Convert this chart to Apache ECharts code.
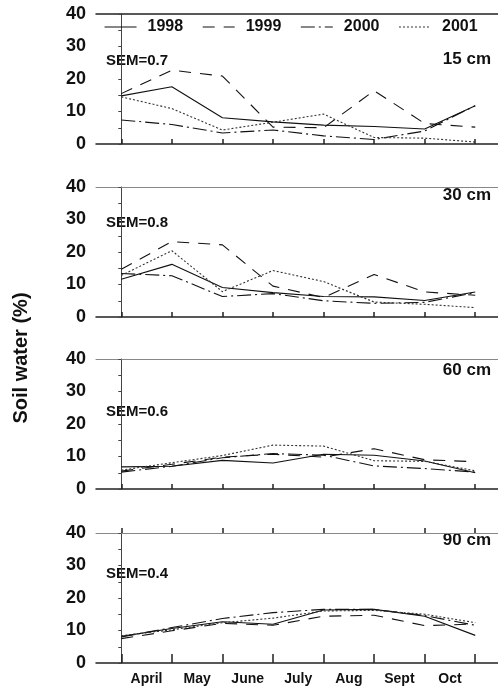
<!DOCTYPE html>
<html>
<head>
<meta charset="utf-8">
<script src="https://cdn.jsdelivr.net/npm/echarts@6/dist/echarts.min.js"></script>
<style>
  html, body { margin: 0; padding: 0; background: #fff; }
  #chart { width: 498px; height: 686px; }
</style>
</head>
<body>
<div id="chart"></div>
<script>
const months = ['April', 'May', 'June', 'July', 'Aug', 'Sept', 'Oct'];
const years = ['1998', '1999', '2000', '2001'];
const depths = ['15 cm', '30 cm', '60 cm', '90 cm'];
const sems = ['SEM=0.7', 'SEM=0.8', 'SEM=0.6', 'SEM=0.4'];

// soil water (%) at each sampling point, 8 points per year
const cm15_1998 = [14.8, 17.6, 8.1, 6.8, 5.8, 5.4, 4.6, 11.8];
const cm15_1999 = [15.5, 22.7, 20.9, 5.2, 5.0, 16.4, 6.3, 5.2];
const cm15_2000 = [7.4, 6.0, 3.4, 4.3, 2.5, 1.4, 4.0, 11.8];
const cm15_2001 = [14.5, 10.9, 4.3, 6.7, 9.2, 2.0, 1.8, 0.6];

const cm30_1998 = [11.6, 16.2, 9.1, 7.5, 6.3, 6.2, 5.1, 7.7];
const cm30_1999 = [14.7, 23.2, 22.2, 9.5, 6.0, 13.1, 7.7, 6.7];
const cm30_2000 = [13.4, 12.7, 6.3, 7.2, 5.0, 4.2, 4.5, 7.5];
const cm30_2001 = [12.8, 20.4, 7.8, 14.3, 10.9, 4.6, 3.9, 2.9];

const cm60_1998 = [6.8, 7.0, 8.8, 8.0, 10.7, 10.4, 8.6, 5.0];
const cm60_1999 = [5.5, 7.6, 9.8, 10.7, 9.8, 12.4, 9.0, 8.4];
const cm60_2000 = [5.2, 7.0, 9.6, 10.9, 10.4, 7.1, 6.3, 5.2];
const cm60_2001 = [5.8, 8.1, 10.3, 13.5, 13.2, 8.7, 8.5, 5.6];

const cm90_1998 = [8.2, 10.6, 12.7, 11.9, 16.3, 16.5, 14.4, 8.5];
const cm90_1999 = [7.5, 9.9, 12.2, 11.6, 14.4, 14.7, 11.5, 12.0];
const cm90_2000 = [8.0, 10.9, 13.7, 15.5, 16.5, 16.5, 14.6, 11.6];
const cm90_2001 = [8.4, 10.2, 12.4, 13.8, 16.0, 16.2, 15.0, 12.4];

const panels = [
    [cm15_1998, cm15_1999, cm15_2000, cm15_2001],
    [cm30_1998, cm30_1999, cm30_2000, cm30_2001],
    [cm60_1998, cm60_1999, cm60_2000, cm60_2001],
    [cm90_1998, cm90_1999, cm90_2000, cm90_2001]
];

const FONT = '"Liberation Sans", Arial, sans-serif';
const gridTops = [14, 187, 359, 533];
const pointTicks = [0, 1, 2, 3, 4, 5, 6, 7];
const labelPos = [0.5, 1.5, 2.5, 3.5, 4.5, 5.5, 6.5];

// line look for each year
const lineTypes = ['solid', [12, 9], [14, 4, 2, 4], [2, 2]];
const lineColors = ['#111', '#111', '#111', '#333'];

var grids = [], xAxes = [], yAxes = [], series = [], graphics = [];

gridTops.forEach((top, i) => {
    grids.push({ left: 96, right: 0, top: top, height: 130 });
});

// bottom axes (ticks on the data points)
gridTops.forEach((top, i) => {
    var last = i === 3;
    xAxes.push({
        type: 'value', gridIndex: i, min: -0.5, max: 7.45,
        axisLine: { show: true, lineStyle: { color: '#222', width: 1.5 } },
        axisTick: { show: true, inside: true, length: last ? 9 : 5, customValues: pointTicks,
            lineStyle: { color: '#222', width: 1.5 } },
        axisLabel: {
            show: last, customValues: labelPos, margin: 9,
            fontFamily: FONT, fontWeight: 'bold', fontSize: 14, color: '#111',
            formatter: v => months[Math.round(v - 0.5)]
        },
        splitLine: { show: false }
    });
});
// top frame lines
gridTops.forEach((top, i) => {
    xAxes.push({
        type: 'value', gridIndex: i, position: 'top', min: -0.5, max: 7.45,
        axisLine: { show: true, lineStyle: { color: i === 0 ? '#222' : '#888', width: i === 0 ? 1.5 : 1 } },
        axisTick: { show: false }, axisLabel: { show: false }, splitLine: { show: false }
    });
});
// outside ticks on the bottom panel
xAxes.push({
    type: 'value', gridIndex: 3, min: -0.5, max: 7.45,
    axisLine: { show: false },
    axisTick: { show: true, length: 5, customValues: pointTicks, lineStyle: { color: '#222', width: 1.5 } },
    axisLabel: { show: false }, splitLine: { show: false }
});

gridTops.forEach((top, i) => {
    yAxes.push({
        type: 'value', gridIndex: i, min: 0, max: 40, interval: 10,
        axisLine: { show: true, lineStyle: { color: '#444', width: 1 } },
        axisTick: { show: true, length: 3, lineStyle: { color: '#444' } },
        minorTick: { show: true, splitNumber: 2, length: 3, lineStyle: { color: '#444' } },
        axisLabel: { margin: 10, fontFamily: FONT, fontWeight: 'bold', fontSize: 18, color: '#111' },
        splitLine: { show: false }
    });
});

panels.forEach((panel, i) => {
    panel.forEach((vals, k) => {
        series.push({
            name: years[k], type: 'line', xAxisIndex: i, yAxisIndex: i,
            symbol: 'none', silent: true,
            itemStyle: { color: lineColors[k] },
            lineStyle: { color: lineColors[k], width: 1.1, type: lineTypes[k] },
            data: vals.map((v, j) => [j, v])
        });
    });
});

const semY = [61, 223, 412, 574];
const depthY = [61, 197, 372, 542];
sems.forEach((t, i) => {
    graphics.push({
        type: 'text', left: 106, top: semY[i] - 8,
        style: { text: t, font: 'bold 15px ' + FONT, fill: '#111' }
    });
});
depths.forEach((t, i) => {
    graphics.push({
        type: 'text', right: 7, top: depthY[i] - 10,
        style: { text: t, font: 'bold 17px ' + FONT, fill: '#111' }
    });
});
graphics.push({
    type: 'text', x: 21, y: 358, rotation: Math.PI / 2,
    style: { text: 'Soil water (%)', font: 'bold 20px ' + FONT, fill: '#111',
        textAlign: 'center', textVerticalAlign: 'middle' }
});

var myChart = echarts.init(document.getElementById('chart'));
myChart.setOption({
    animation: false,
    backgroundColor: '#fff',
    legend: {
        data: years, left: 99, top: 14,
        itemWidth: 32, itemHeight: 14, itemGap: 19,
        itemStyle: { opacity: 0 },
        lineStyle: { width: 1.1 },
        textStyle: { fontFamily: FONT, fontWeight: 'bold', fontSize: 16, color: '#111', padding: [0, 0, 0, 6] }
    },
    grid: grids,
    xAxis: xAxes,
    yAxis: yAxes,
    series: series,
    graphic: graphics
});
</script>
</body>
</html>
